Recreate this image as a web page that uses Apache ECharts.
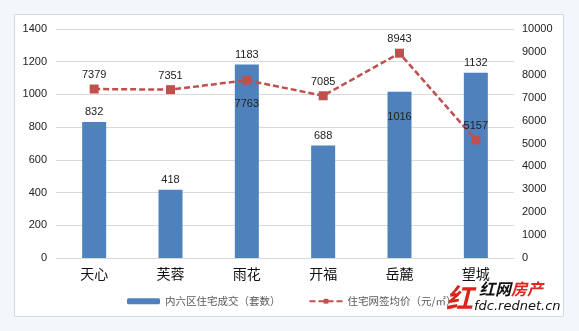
<!DOCTYPE html>
<html>
<head>
<meta charset="utf-8">
<script src="https://cdn.jsdelivr.net/npm/echarts@6/dist/echarts.min.js"></script>
<style>
  html, body { margin: 0; padding: 0; background: #F2F7FC; }
  #chart { width: 579px; height: 331px; }
</style>
</head>
<body>
<div id="chart"></div>
<script>
// 长沙内六区住宅成交套数与网签均价
const districts = ['天心', '芙蓉', '雨花', '开福', '岳麓', '望城'];
const dealCounts = [832, 418, 1183, 688, 1016, 1132];
const avgPrices = [7379, 7351, 7763, 7085, 8943, 5157];
const countTicks = { min: 0, max: 1400, interval: 200 };
const priceTicks = { min: 0, max: 10000, interval: 1000 };
const seriesNames = ['内六区住宅成交（套数）', '住宅网签均价（元/㎡）'];

const numFont = '"Liberation Sans", "DejaVu Sans", sans-serif';
const cjkFont = '"Noto Sans CJK SC", sans-serif';
const plain = v => String(v);

const barData = dealCounts.map((v, i) => {
  if (districts[i] === '岳麓') {
    return { value: v, label: { position: 'insideTop', distance: 20 } };
  }
  return v;
});
const lineData = avgPrices.map((v, i) => {
  if (districts[i] === '雨花') {
    return { value: v, label: { position: 'bottom', distance: 14 } };
  }
  return v;
});

const chart = echarts.init(document.getElementById('chart'));
chart.setOption({
  animation: false,
  backgroundColor: '#F2F7FC',
  graphic: [
    {
      type: 'rect', z: -10, silent: true,
      shape: { x: 14.5, y: 14.5, width: 549, height: 302 },
      style: { fill: '#FFFFFF', stroke: '#D3D9E0', lineWidth: 1 }
    },
    {
      type: 'text', z: 100, left: 446, top: 284,
      style: { text: '红', fill: '#D9261C', font: 'italic bold 27px "Noto Sans CJK SC"' }
    },
    {
      type: 'text', z: 100, left: 479, top: 281,
      style: {
        text: '{a|红网}{b|房产}',
        rich: {
          a: { fill: '#111111', font: 'italic bold 16px "Noto Sans CJK SC"' },
          b: { fill: '#E0261E', font: 'italic bold 16px "Noto Sans CJK SC"' }
        }
      }
    },
    {
      type: 'text', z: 100, left: 474, top: 300,
      style: { text: 'fdc.rednet.cn', fill: '#111111', font: 'italic 13px "DejaVu Sans"' }
    }
  ],
  grid: { left: 56, right: 65, top: 29, bottom: 73 },
  legend: {
    left: 122, top: 291,
    itemWidth: 33, itemHeight: 6, itemGap: 28,
    textStyle: { fontFamily: cjkFont, fontSize: 10.5, color: '#595959' },
    data: seriesNames
  },
  xAxis: {
    type: 'category',
    data: districts,
    axisLine: { lineStyle: { color: '#D9D9D9' } },
    axisTick: { show: false },
    axisLabel: { fontFamily: cjkFont, fontSize: 14, color: '#111111', margin: 9 }
  },
  yAxis: [
    {
      type: 'value', min: countTicks.min, max: countTicks.max, interval: countTicks.interval,
      axisLine: { show: false }, axisTick: { show: false },
      splitLine: { lineStyle: { color: '#D9D9D9' } },
      axisLabel: { fontFamily: numFont, fontSize: 11, color: '#222222', margin: 9, formatter: plain }
    },
    {
      type: 'value', min: priceTicks.min, max: priceTicks.max, interval: priceTicks.interval,
      axisLine: { show: false }, axisTick: { show: false },
      splitLine: { show: false },
      axisLabel: { fontFamily: numFont, fontSize: 11, color: '#222222', margin: 8, formatter: plain }
    }
  ],
  series: [
    {
      name: seriesNames[0],
      type: 'bar',
      data: barData,
      barWidth: 24,
      itemStyle: { color: '#4F81BD' },
      label: {
        show: true, position: 'top', distance: 4,
        fontFamily: numFont, fontSize: 11, color: '#222222'
      }
    },
    {
      name: seriesNames[1],
      type: 'line',
      yAxisIndex: 1,
      data: lineData,
      symbol: 'rect', symbolSize: 9,
      itemStyle: { color: '#C0504D' },
      lineStyle: { color: '#C0504D', width: 2.5, type: [6, 3] },
      label: {
        show: true, position: 'top', distance: 4,
        fontFamily: numFont, fontSize: 11, color: '#222222'
      },
      z: 5
    }
  ]
});
</script>
</body>
</html>
